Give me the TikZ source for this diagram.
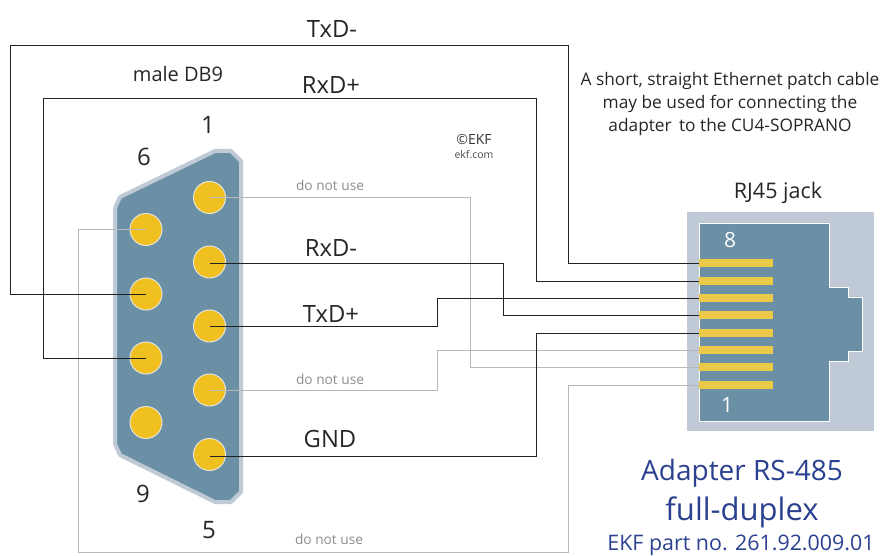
\documentclass[tikz,border=0pt]{standalone}
\usepackage{fontspec}
\setmainfont{Open Sans}
\definecolor{shellblue}{HTML}{6B8FA5}
\definecolor{shellrim}{HTML}{C0CAD6}
\definecolor{pinyel}{HTML}{F0C020}
\definecolor{pinrim}{HTML}{E6E4D8}
\definecolor{contact}{HTML}{EDC94A}
\definecolor{wiregrey}{HTML}{B8B8B8}
\definecolor{wiredark}{HTML}{222222}
\definecolor{titleblue}{HTML}{2B4190}
\tikzset{
 pinnode/.style={circle,fill=pinyel,draw=pinrim,line width=1pt,minimum size=32pt,inner sep=0pt},
 contactbar/.style={rectangle,fill=contact,draw=none,minimum width=74pt,minimum height=8pt,inner sep=0pt},
 wire/.style={draw=wiredark,line width=.8pt},
 greywire/.style={draw=wiregrey,line width=.8pt},
 label/.style={text=black!85,font=\fontsize{23.8}{28}\selectfont,inner sep=0pt},
 numlabel/.style={text=black!85,font=\fontsize{24}{28}\selectfont,inner sep=0pt},
 small/.style={text=black!45,font=\fontsize{13.7}{16}\selectfont,inner sep=0pt},
 note/.style={text=black!85,font=\fontsize{17.3}{23}\selectfont,inner sep=0pt,align=center},
 head/.style={text=black!85,font=\fontsize{20}{24}\selectfont,inner sep=0pt},
}
\begin{document}
\begin{tikzpicture}[x=1pt,y=-1pt]
\useasboundingbox (0,0) rectangle (884,556);
% DB9 shell
\draw[fill=shellblue,draw=shellrim,line width=4pt,line join=round]
 (115,208) -- (120,197) -- (215,151) -- (231,151) -- (241,161) -- (241,492)
 -- (231,502) -- (215,502) -- (120,455) -- (115,444) -- cycle;
% pins
\node[pinnode] (p1) at (209.5,197.5) {};
\node[pinnode] (p2) at (209.5,262) {};
\node[pinnode] (p3) at (209.5,326) {};
\node[pinnode] (p4) at (209.5,390) {};
\node[pinnode] (p5) at (209.5,454.5) {};
\node[pinnode] (p6) at (146,229.5) {};
\node[pinnode] (p7) at (146,294) {};
\node[pinnode] (p8) at (146,358) {};
\node[pinnode] (p9) at (146,422.5) {};
% jack
\fill[shellrim] (687,212) rectangle (874,431);
\draw[fill=shellblue,draw=white,line width=.9pt]
 (699,223) -- (829,223) -- (829,287) -- (848,287) -- (848,297) -- (862,297)
 -- (862,351) -- (848,351) -- (848,361) -- (829,361) -- (829,421) -- (699,421) -- cycle;
\node[contactbar,anchor=west] (c8) at (699,263) {};
\node[contactbar,anchor=west] (c7) at (699,281) {};
\node[contactbar,anchor=west] (c6) at (699,298) {};
\node[contactbar,anchor=west] (c5) at (699,315) {};
\node[contactbar,anchor=west] (c4) at (699,333) {};
\node[contactbar,anchor=west] (c3) at (699,350) {};
\node[contactbar,anchor=west] (c2) at (699,367) {};
\node[contactbar,anchor=west] (c1) at (699,385) {};
\node[text=white,font=\fontsize{21}{25}\selectfont,inner sep=0pt] (j8) at (730,240) {8};
\node[text=white,font=\fontsize{21}{25}\selectfont,inner sep=0pt] (j1) at (727,405) {1};
% wires
\draw[greywire] (p1.center) -- (470,197.5) |- (c2.west);
\draw[greywire] (p6.center) -- (78,229.5) |- (568,552) |- (c1.west);
\draw[greywire] (p4.center) -- (437,390) |- (c3.west);
\draw[wire] (p7.center) -- (10,294) |- (568,45) |- (c8.west);
\draw[wire] (p8.center) -- (43,358) |- (536,98) |- (c7.west);
\draw[wire] ([yshift=-1pt]p2.center) -- (503,263) |- (c5.west);
\draw[wire] (p3.center) -- (437,326) |- (c6.west);
\draw[wire] ([yshift=-1.5pt]p5.center) -- (536,456) |- (c4.west);
% labels
\node[label] (l1) at (332,29) {TxD-};
\node[label] (l2) at (331,85) {RxD+};
\node[label] (l3) at (331,248) {RxD-};
\node[label] (l4) at (331,314) {TxD+};
\node[label] (l5) at (330,439) {GND};
\node[head] (l6) at (178,74) {male DB9};
\node[head,font=\fontsize{21.5}{25}\selectfont] (l7) at (778,193) {RJ45 jack};
\node[numlabel] (n1) at (208,125) {1};
\node[numlabel] (n6) at (144,157) {6};
\node[numlabel] (n9) at (143,494) {9};
\node[numlabel] (n5) at (209,530) {5};
\node[small] (d1) at (330,185) {do not use};
\node[small] (d2) at (330,379) {do not use};
\node[small] (d3) at (329,539) {do not use};
\node[text=black!80,font=\fontsize{14}{16}\selectfont,inner sep=0pt] (e1) at (474,140) {©EKF};
\node[text=black!70,font=\fontsize{10.5}{14}\selectfont,inner sep=0pt] (e2) at (474,155) {ekf.com};
\node[note] (t1) at (730,104.5) {A short, straight Ethernet patch cable\\may be used for connecting the\\adapter\, to the CU4-SOPRANO};
\node[text=titleblue,font=\fontsize{28}{33}\selectfont,inner sep=0pt] (t2) at (742,473) {Adapter RS-485};
\node[text=titleblue,font=\fontsize{31}{36}\selectfont,inner sep=0pt] (t3) at (742,512) {full-duplex};
\node[text=titleblue,font=\fontsize{21.4}{25}\selectfont,inner sep=0pt] (t4) at (741,545) {EKF part no. 261.92.009.01};
\end{tikzpicture}
\end{document}
